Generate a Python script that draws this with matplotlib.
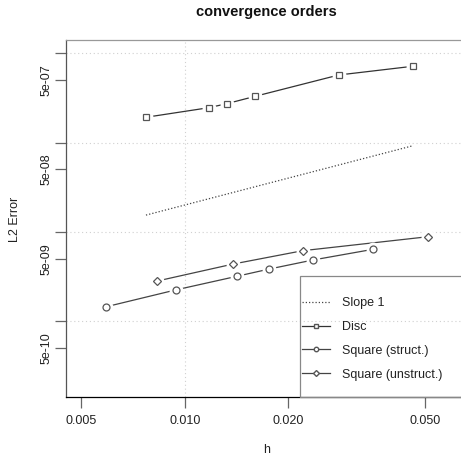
import matplotlib
matplotlib.use("Agg")
import matplotlib.pyplot as plt
from matplotlib.lines import Line2D
from matplotlib.patches import Rectangle
import numpy as np

plt.rcParams['font.family'] = ['Liberation Sans', 'DejaVu Sans']

# ---- data ----
disc_h = [0.00771, 0.01176, 0.01327, 0.01604, 0.02804, 0.04605]
disc_err = [1.92e-7, 2.46e-7, 2.73e-7, 3.30e-7, 5.71e-7, 7.15e-7]

sq_struct_h = [0.00590, 0.00941, 0.01416, 0.01762, 0.02357, 0.03537]
sq_struct_err = [1.45e-9, 2.24e-9, 3.18e-9, 3.84e-9, 4.84e-9, 6.39e-9]

sq_unstruct_h = [0.00832, 0.01384, 0.02204, 0.05111]
sq_unstruct_err = [2.82e-9, 4.37e-9, 6.16e-9, 8.84e-9]

slope_h = [0.00771, 0.04605]
slope_coef = 2e-6

xticks = [0.005, 0.010, 0.020, 0.050]
xtick_labels = ["0.005", "0.010", "0.020", "0.050"]
ylabeled = [5e-7, 5e-8, 5e-9, 5e-10]
ylabeled_text = ["5e-07", "5e-08", "5e-09", "5e-10"]
ydecades = [1e-6, 1e-7, 1e-8, 1e-9]
legend_labels = ["Slope 1", "Disc", "Square (struct.)", "Square (unstruct.)"]

W, H = 461, 459
fig = plt.figure(figsize=(W / 100, H / 100), dpi=100)
ax = fig.add_axes([66 / W, (H - 397.3) / H, 401 / W, (397.3 - 40.5) / H])
ax.set_xscale('log')
ax.set_yscale('log')
ax.set_xlim(0.004512, 0.06625)
ax.set_ylim(1.406e-10, 1.39e-6)

# grid (dotted, light)
for yv in ydecades:
    ax.axhline(yv, color='#d0d0d0', lw=0.8, ls=(0, (1, 2.5)), zorder=0)
for xv in [0.01, 0.1]:
    ax.axvline(xv, color='#d0d0d0', lw=0.8, ls=(0, (1, 2.5)), zorder=0)

# slope line
sh = np.array(slope_h)
ax.plot(sh, slope_coef * sh, ls=(0, (1, 1.6)), color='#444444', lw=0.9, zorder=2)

series = [
    (disc_h, disc_err, 's', 4.6, '#333333'),
    (sq_struct_h, sq_struct_err, 'o', 5.0, '#444444'),
    (sq_unstruct_h, sq_unstruct_err, 'D', 4.4, '#444444'),
]
for hx, ey, m, ms, c in series:
    ax.plot(hx, ey, '-', color=c, lw=0.9, zorder=2)
for hx, ey, m, ms, c in series:
    ax.plot(hx, ey, ls='none', marker='o', ms=10, mfc='white', mec='none', zorder=3)
for hx, ey, m, ms, c in series:
    ax.plot(hx, ey, ls='none', marker=m, ms=ms, mfc='white', mec='#555555', mew=0.9, zorder=4)

# ticks
ax.xaxis.set_minor_locator(matplotlib.ticker.NullLocator())
ax.yaxis.set_minor_locator(matplotlib.ticker.FixedLocator(ydecades))
ax.yaxis.set_minor_formatter(matplotlib.ticker.NullFormatter())
ax.set_xticks(xticks)
ax.set_xticklabels(xtick_labels)
ax.set_yticks(ylabeled)
ax.set_yticklabels(ylabeled_text, rotation=90, va='center')
ax.tick_params(axis='both', which='both', direction='out', length=8, width=0.9,
               color='#666666', labelsize=9, labelcolor='#222222')
ax.tick_params(axis='x', pad=5)
ax.tick_params(axis='y', pad=2)

ax.spines['left'].set_color('#555555')
ax.spines['top'].set_color('#999999')
ax.spines['bottom'].set_color('black')
ax.spines['right'].set_visible(False)
for s in ['left', 'top', 'bottom']:
    ax.spines[s].set_linewidth(0.9)

# legend frame
x0 = (300 - 66) / 401
ax.add_patch(Rectangle((x0, 0), 1 - x0, (397.3 - 275.7) / (397.3 - 40.5), transform=ax.transAxes,
                       fill=False, ec='#888888', lw=0.9, zorder=5, clip_on=False))
handles = [
    Line2D([], [], ls=(0, (1, 1.6)), color='#444444', lw=0.9),
    Line2D([], [], ls='-', color='#333333', lw=0.9, marker='s', ms=3.0, mfc='white', mec='#555555'),
    Line2D([], [], ls='-', color='#444444', lw=0.9, marker='o', ms=3.2, mfc='white', mec='#555555'),
    Line2D([], [], ls='-', color='#444444', lw=0.9, marker='D', ms=3.0, mfc='white', mec='#555555'),
]
leg = ax.legend(handles, legend_labels, loc='upper left',
                bbox_to_anchor=((302 - 66) / 401, (397.3 - 297) / (397.3 - 40.5)),
                frameon=False, fontsize=9, handlelength=2.2, handletextpad=1.0,
                labelspacing=0.95, borderpad=0, borderaxespad=0)
for t in leg.get_texts():
    t.set_color('#222222')

# titles / labels
fig.text(266.5 / W, 1 - 12 / H, "convergence orders", ha='center', va='center',
         fontsize=10.5, fontweight='bold', color='#111111')
fig.text(15 / W, 1 - 219 / H, "L2 Error", rotation=90, ha='center', va='center',
         fontsize=9, color='#222222')
fig.text(266.5 / W, 1 - 450 / H, "h", ha='center', va='center', fontsize=9, color='#222222')

fig.savefig("out.png", dpi=100)
